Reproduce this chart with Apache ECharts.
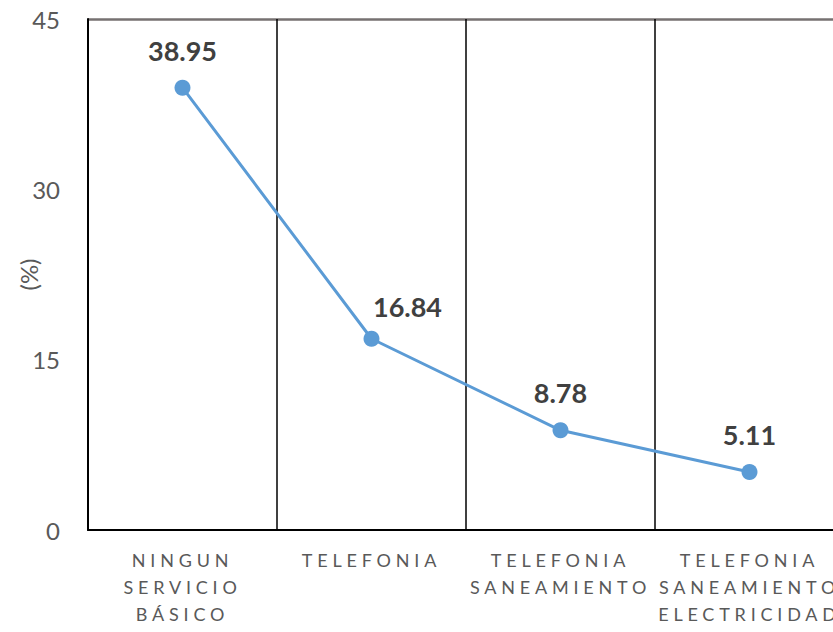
<!DOCTYPE html>
<html>
<head>
<meta charset="utf-8">
<script src="https://cdn.jsdelivr.net/npm/echarts@6/dist/echarts.min.js"></script>
<style>
html,body{margin:0;padding:0;background:#fff;overflow:hidden;}
#main{width:833px;height:632px;}
</style>
</head>
<body>
<div id="main"></div>
<script>
const categories = ['NINGUN\nSERVICIO\nBÁSICO', 'TELEFONIA', 'TELEFONIA\nSANEAMIENTO', 'TELEFONIA\nSANEAMIENTO\nELECTRICIDAD'];
const values = [38.95, 16.84, 8.78, 5.11];
const yTicks = { min: 0, max: 45, interval: 15 };
const yAxisName = '(%)';

const chart = echarts.init(document.getElementById('main'), null, { renderer: 'svg' });
const font = 'Lato, "Open Sans", sans-serif';
const seriesData = values.map((v, i) => i === 1
  ? { value: v, label: { offset: [36, 5] } }
  : { value: v });
chart.setOption({
  animation: false,
  grid: { left: 88, right: -11, top: 19, bottom: 102, containLabel: false, outerBoundsMode: 'none' },
  xAxis: {
    type: 'category',
    data: categories,
    boundaryGap: true,
    axisLine: { show: true, lineStyle: { color: '#000', width: 2 } },
    axisTick: { show: false },
    splitLine: { show: true, lineStyle: { color: '#000', width: 1.5 } },
    axisLabel: {
      interval: 0,
      margin: 16,
      fontFamily: font,
      fontSize: 18,
      lineHeight: 27,
      color: '#595959'
    }
  },
  yAxis: {
    type: 'value',
    min: yTicks.min, max: yTicks.max, interval: yTicks.interval,
    name: yAxisName,
    nameLocation: 'middle',
    nameGap: 48,
    nameRotate: 90,
    nameMoveOverlap: false,
    nameTextStyle: { fontFamily: font, fontSize: 24, color: '#595959' },
    axisLine: { show: true, lineStyle: { color: '#000', width: 2 } },
    axisTick: { show: false },
    splitLine: { show: true, lineStyle: { color: ['rgba(0,0,0,0)', 'rgba(0,0,0,0)', 'rgba(0,0,0,0)', '#767171'], width: 2.5 } },
    axisLabel: { margin: 28, fontFamily: font, fontSize: 24, color: '#595959' }
  },
  series: [{
    type: 'line',
    data: seriesData,
    symbol: 'circle',
    symbolSize: 16,
    itemStyle: { color: '#5B9BD5' },
    lineStyle: { color: '#5B9BD5', width: 3 },
    label: {
      show: true,
      position: 'top',
      distance: 16,
      fontFamily: font,
      fontSize: 27,
      fontWeight: 'bold',
      color: '#404040'
    }
  }]
});

const lineWords = new Set();
categories.forEach(c => c.split('\n').forEach(w => lineWords.add(w)));
function spaceLabels() {
  document.querySelectorAll('#main svg text').forEach(t => {
    if (lineWords.has(t.textContent.trim())) {
      t.setAttribute('letter-spacing', '4.8px');
      t.style.letterSpacing = '4.8px';
    }
  });
}
chart.on('finished', spaceLabels);
spaceLabels();
setTimeout(spaceLabels, 50);
setTimeout(spaceLabels, 300);
</script>
</body>
</html>
